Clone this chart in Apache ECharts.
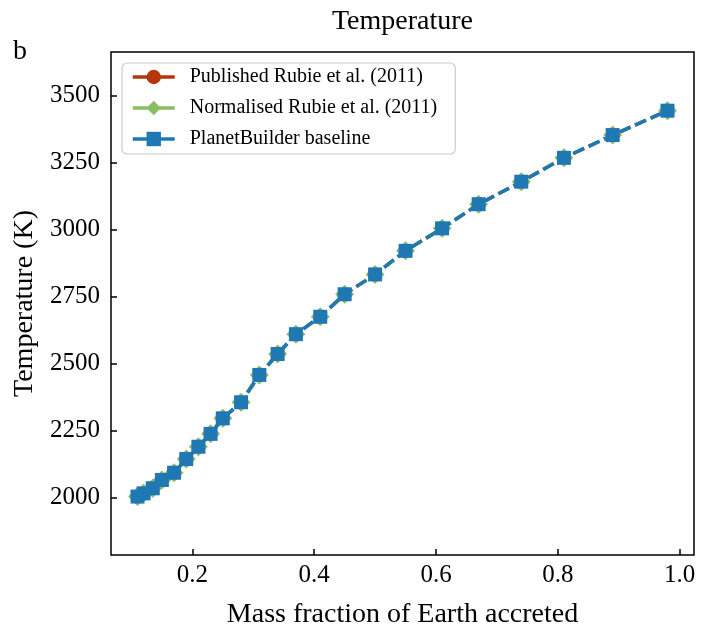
<!DOCTYPE html>
<html>
<head>
<meta charset="utf-8">
<title>Temperature</title>
<script src="https://cdn.jsdelivr.net/npm/echarts@6/dist/echarts.min.js"></script>
<style>
  html, body { margin: 0; padding: 0; background: #fff; }
  #chart { width: 713px; height: 636px; }
</style>
</head>
<body>
<div id="chart"></div>
<script>
// values
const massFraction = [0.11, 0.12, 0.135, 0.15, 0.17, 0.19, 0.21, 0.23, 0.25, 0.28, 0.31, 0.34,
  0.37, 0.41, 0.45, 0.50, 0.55, 0.61, 0.67, 0.74, 0.81, 0.89, 0.98];
const publishedTemp = [2004, 2016, 2035, 2066, 2093, 2144, 2190, 2238, 2296, 2356, 2458, 2536,
  2610, 2675, 2759, 2833, 2921, 3005, 3095, 3179, 3268, 3353, 3444];
const normalisedTemp = [2004, 2016, 2035, 2066, 2093, 2144, 2190, 2238, 2296, 2356, 2458, 2536,
  2610, 2675, 2759, 2833, 2921, 3005, 3095, 3179, 3268, 3353, 3444];
const baselineTemp = [2004, 2016, 2035, 2066, 2093, 2144, 2190, 2238, 2296, 2356, 2458, 2536,
  2610, 2675, 2759, 2833, 2921, 3005, 3095, 3179, 3268, 3353, 3444];
const xTicks = [0.2, 0.4, 0.6, 0.8, 1.0];
const yTicks = [2000, 2250, 2500, 2750, 3000, 3250, 3500];

const FONT = '"Liberation Serif", "Times New Roman", serif';
const zip = (xs, ys) => xs.map((x, i) => [x, ys[i]]);

const chart = echarts.init(document.getElementById('chart'), null, { renderer: 'canvas' });

const dash = [12, 5];
const mkSeries = (name, data, symbol, size, color) => ({
  name,
  type: 'line',
  data: zip(massFraction, data),
  symbol,
  symbolSize: size,
  showSymbol: true,
  lineStyle: { color, width: 3.5, type: dash },
  itemStyle: { color },
  emphasis: { disabled: true },
  animation: false,
});

const tickStyle = { show: true, inside: true, length: 6, lineStyle: { color: '#000', width: 1.5 } };

chart.setOption({
  backgroundColor: '#fff',
  textStyle: { fontFamily: FONT },
  grid: {
    left: 111, right: 19, top: 52, bottom: 81,
    show: true, borderColor: '#000', borderWidth: 1.5, backgroundColor: 'transparent',
  },
  graphic: [
    { type: 'text', x: 402.5, y: 22,
      style: { text: 'Temperature', font: '28px ' + FONT, fill: '#000', textAlign: 'center', textVerticalAlign: 'middle' } },
    { type: 'text', x: 13, y: 52,
      style: { text: 'b', font: '28px ' + FONT, fill: '#000', textAlign: 'left', textVerticalAlign: 'middle' } },
  ],
  legend: {
    orient: 'vertical',
    left: 122, top: 63,
    padding: [4, 18, 5, 9],
    itemGap: 11,
    itemWidth: 42,
    itemHeight: 18,
    backgroundColor: 'rgba(255,255,255,0.8)',
    borderColor: '#cccccc',
    borderWidth: 1.2,
    borderRadius: 5,
    textStyle: { fontFamily: FONT, fontSize: 20, color: '#000', padding: [0, 0, 0, 10] },
    lineStyle: { type: 'solid', width: 3.5 },
    data: [
      { name: 'Published Rubie et al. (2011)', itemStyle: { color: '#b5360c' } },
      { name: 'Normalised Rubie et al. (2011)', itemStyle: { color: '#8bbd62' } },
      { name: 'PlanetBuilder baseline', itemStyle: { color: '#1f77b4' } },
    ],
  },
  xAxis: {
    type: 'value',
    min: 0.0665, max: 1.0235,
    axisLine: { show: false },
    splitLine: { show: false },
    axisTick: Object.assign({ customValues: xTicks }, tickStyle),
    axisLabel: {
      customValues: xTicks,
      formatter: (v) => v.toFixed(1),
      fontSize: 25, color: '#000', fontFamily: FONT, margin: 8,
    },
    name: 'Mass fraction of Earth accreted',
    nameLocation: 'middle',
    nameGap: 46,
    nameTextStyle: { fontSize: 28, color: '#000', fontFamily: FONT },
  },
  yAxis: {
    type: 'value',
    min: 1786, max: 3663,
    axisLine: { show: false },
    splitLine: { show: false },
    axisTick: Object.assign({ customValues: yTicks }, tickStyle),
    axisLabel: {
      customValues: yTicks,
      formatter: (v) => String(Math.round(v)),
      fontSize: 25, color: '#000', fontFamily: FONT, margin: 11,
    },
    name: 'Temperature (K)',
    nameLocation: 'middle',
    nameGap: 71,
    nameTextStyle: { fontSize: 28, color: '#000', fontFamily: FONT },
  },
  series: [
    mkSeries('Published Rubie et al. (2011)', publishedTemp, 'circle', 12, '#b5360c'),
    mkSeries('Normalised Rubie et al. (2011)', normalisedTemp, 'diamond', 19, '#8bbd62'),
    mkSeries('PlanetBuilder baseline', baselineTemp, 'rect', 14, '#1f77b4'),
  ],
});
</script>
</body>
</html>
